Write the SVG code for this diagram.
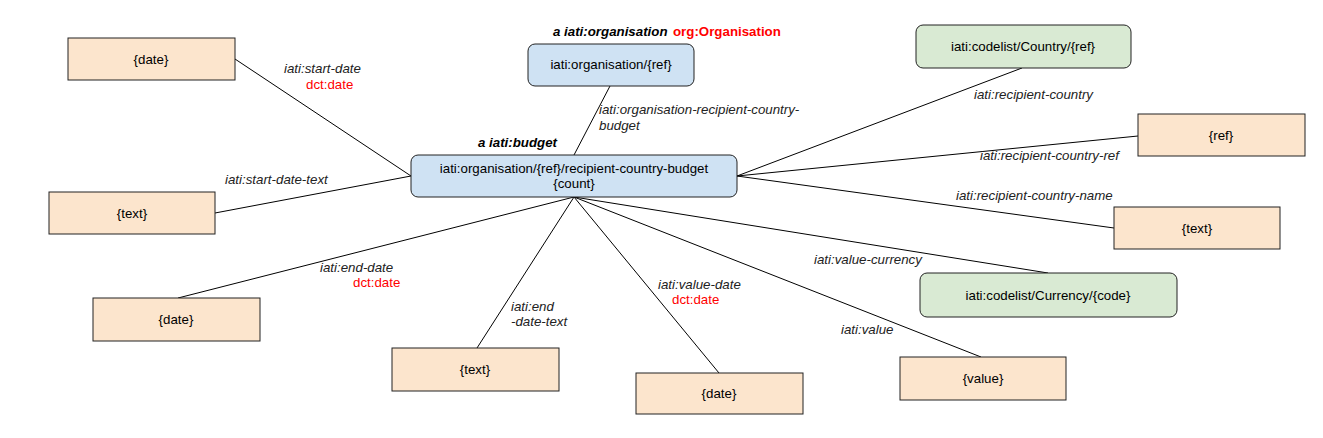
<svg xmlns="http://www.w3.org/2000/svg" width="1323" height="438" viewBox="0 0 1323 438">
<style>
text{font-family:"Liberation Sans",Arial,sans-serif;font-size:13.3px;fill:#000}
.n{text-anchor:middle}
.l{font-style:italic;fill:#222}
.r{fill:#f00}
.b{font-weight:bold;font-style:italic}
.rb{font-weight:bold;fill:#f00}
.lit{fill:#fce5cd;stroke:#222;stroke-width:1}
.res{fill:#cfe2f3;stroke:#222;stroke-width:1}
.code{fill:#d9ead3;stroke:#222;stroke-width:1}
.e{stroke:#000;stroke-width:1;fill:none}
</style>
<rect width="1323" height="438" fill="#fff"/>
<g id="connectors">
<line class="e" x1="610" y1="86" x2="574" y2="155"/>
<line class="e" x1="235" y1="59" x2="411" y2="176"/>
<line class="e" x1="215" y1="213" x2="411" y2="176"/>
<line class="e" x1="178" y1="298" x2="574" y2="197"/>
<line class="e" x1="477" y1="348" x2="574" y2="197"/>
<line class="e" x1="719" y1="373" x2="574" y2="197"/>
<line class="e" x1="981" y1="357" x2="574" y2="197"/>
<line class="e" x1="1048" y1="273" x2="574" y2="197"/>
<line class="e" x1="1022" y1="68" x2="737" y2="176"/>
<line class="e" x1="1138" y1="136" x2="737" y2="176"/>
<line class="e" x1="1114" y1="228" x2="737" y2="176"/>
<text class="l" x="599" y="114">iati:organisation-recipient-country-</text>
<text class="l" x="599" y="130">budget</text>
<text class="l" x="284" y="73">iati:start-date</text>
<text class="r" x="306" y="89">dct:date</text>
<text class="l" x="225" y="184">iati:start-date-text</text>
<text class="l" x="320" y="272">iati:end-date</text>
<text class="r" x="353" y="287">dct:date</text>
<text class="l" x="511" y="311">iati:end</text>
<text class="l" x="511" y="326">-date-text</text>
<text class="l" x="658" y="289">iati:value-date</text>
<text class="r" x="672" y="304">dct:date</text>
<text class="l" x="841" y="334">iati:value</text>
<text class="l" x="814" y="264">iati:value-currency</text>
<text class="l" x="974" y="99">iati:recipient-country</text>
<text class="l" x="980" y="160">iati:recipient-country-ref</text>
<text class="l" x="956" y="200">iati:recipient-country-name</text>
</g>
<g id="org">
<text class="b" x="553" y="36">a iati:organisation</text>
<text class="rb" x="673" y="36">org:Organisation</text>
<rect class="res" x="528" y="44" width="166" height="42" rx="7"/>
<text class="n" x="611" y="69">iati:organisation/{ref}</text>
</g>
<g id="budget">
<text class="b" x="478" y="147">a iati:budget</text>
<rect class="res" x="411" y="155" width="326" height="42" rx="7"/>
<text class="n" x="574" y="173">iati:organisation/{ref}/recipient-country-budget</text>
<text class="n" x="574" y="188">{count}</text>
</g>
<g id="start-date">
<rect class="lit" x="68" y="38" width="167" height="42"/>
<text class="n" x="151" y="64">{date}</text>
</g>
<g id="start-date-text">
<rect class="lit" x="49" y="192" width="166" height="42"/>
<text class="n" x="132" y="218">{text}</text>
</g>
<g id="end-date">
<rect class="lit" x="93" y="298" width="167" height="43"/>
<text class="n" x="176" y="324">{date}</text>
</g>
<g id="end-date-text">
<rect class="lit" x="392" y="348" width="167" height="43"/>
<text class="n" x="475" y="374">{text}</text>
</g>
<g id="value-date">
<rect class="lit" x="636" y="373" width="167" height="41"/>
<text class="n" x="719" y="398">{date}</text>
</g>
<g id="value">
<rect class="lit" x="900" y="357" width="166" height="43"/>
<text class="n" x="983" y="383">{value}</text>
</g>
<g id="currency">
<rect class="code" x="920" y="273" width="257" height="44" rx="7"/>
<text class="n" x="1048" y="300">iati:codelist/Currency/{code}</text>
</g>
<g id="country-name">
<rect class="lit" x="1114" y="207" width="166" height="42"/>
<text class="n" x="1197" y="233">{text}</text>
</g>
<g id="country-ref">
<rect class="lit" x="1138" y="114" width="167" height="42"/>
<text class="n" x="1221" y="140">{ref}</text>
</g>
<g id="country">
<rect class="code" x="916" y="25" width="215" height="43" rx="7"/>
<text class="n" x="1023" y="51">iati:codelist/Country/{ref}</text>
</g>
</svg>
